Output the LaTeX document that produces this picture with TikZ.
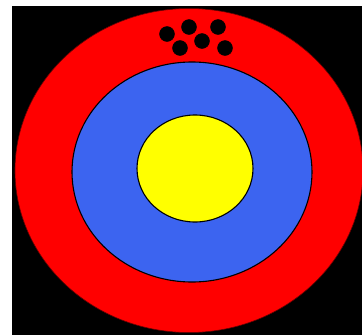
\documentclass[tikz,border=0pt]{standalone}
\begin{document}
\begin{tikzpicture}[x=1pt,y=-1pt,
  ring/.style={draw=black,line width=1.1pt},
  dot/.style={fill=black,draw=black}]
\definecolor{ringred}{RGB}{255,0,0}
\definecolor{ringblue}{RGB}{60,100,240}
\definecolor{ringyellow}{RGB}{255,255,0}
\useasboundingbox (0,0) rectangle (362,335);
\fill[white] (0,0) rectangle (362,335);
\fill[black] (12,6) rectangle (362,335);
\fill[ringred,draw=black!60!red,line width=0.6pt] (189,170.5) ellipse [x radius=174, y radius=162];
\filldraw[ring,fill=ringblue] (192,172) ellipse [x radius=120, y radius=110];
\filldraw[ring,fill=ringyellow] (195,168.5) ellipse [x radius=58, y radius=53.5];
\foreach \p in {(167,34),(189,27),(218,27),(180,48),(202,41),(225,48)}
  \fill[dot] \p circle (7.5);
\end{tikzpicture}
\end{document}
